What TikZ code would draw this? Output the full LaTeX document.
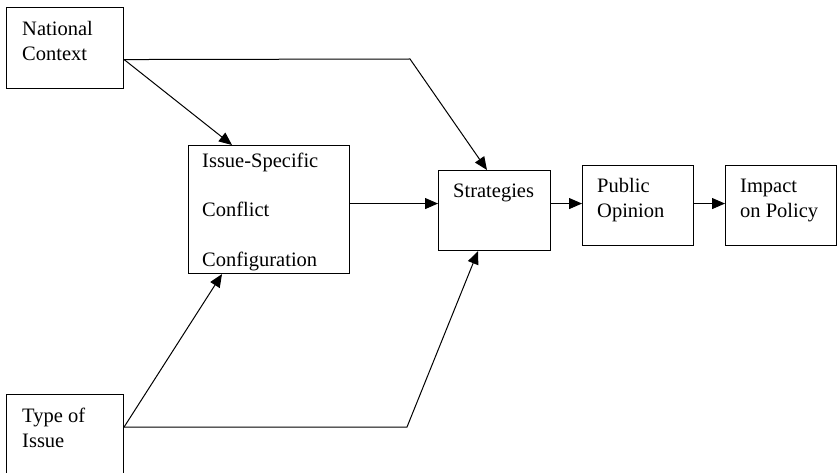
\documentclass[tikz,border=0pt]{standalone}
\usepackage{fontspec}
\setmainfont{Liberation Serif}
\usetikzlibrary{arrows.meta}
\begin{document}
\begin{tikzpicture}[x=1pt,y=-1pt,
  box/.style={draw, line width=1.1pt, inner sep=0pt, anchor=north west},
  lbl/.style={anchor=base west, inner sep=0pt, font=\fontsize{20.5}{24}\selectfont},
  link/.style={line width=1pt, -{Triangle[length=13pt,width=11pt]}},
  plain/.style={line width=1pt}]
\useasboundingbox (0,0) rectangle (838,473);
\clip (0,0) rectangle (838,473);

% boxes
\node[box, minimum width=117pt, minimum height=81pt]  (nc)  at (6,7) {};
\node[box, minimum width=161pt, minimum height=128pt] (isc) at (188,145) {};
\node[box, minimum width=112pt, minimum height=80pt]  (str) at (438,170) {};
\node[box, minimum width=111pt, minimum height=80pt]  (po)  at (582,165) {};
\node[box, minimum width=111pt, minimum height=80pt]  (ip)  at (725,165) {};
\node[box, minimum width=117pt, minimum height=84pt]  (toi) at (6,394) {};

% labels
\node[lbl] (nc1) at (22,36) {National};
\node[lbl] (nc2) at (22,61) {Context};
\node[lbl] (isc1) at (202,168) {Issue-Specific};
\node[lbl] (isc2) at (202,217) {Conflict};
\node[lbl] (isc3) at (202,266) {Configuration};
\node[lbl] (str1) at (453,198) {Strategies};
\node[lbl] (po1) at (597,193) {Public};
\node[lbl] (po2) at (597,218) {Opinion};
\node[lbl] (ip1) at (740,193) {Impact};
\node[lbl] (ip2) at (740,218) {on Policy};
\node[lbl] (toi1) at (22,422) {Type of};
\node[lbl] (toi2) at (22,447) {Issue};

% connector end points
\coordinate (ncout)  at ([yshift=-11.5pt]nc.east);
\coordinate (toiout) at (toi.north east |- 0,427);
\coordinate (iscout) at ([yshift=6pt]isc.east);
\coordinate (strout) at ([yshift=7pt]str.east);
\coordinate (poout)  at ([yshift=2pt]po.east);
\coordinate (bendtop) at (410,59);
\coordinate (bendbot) at (407,427);

% connectors
\draw[link] (ncout) -- ([xshift=44pt]isc.north west);
\draw[link] (ncout) -- (bendtop) -- ([xshift=49pt]str.north west);
\draw[link] (iscout) -- (iscout -| str.west);
\draw[link] (strout) -- (strout -| po.west);
\draw[link] (poout) -- (poout -| ip.west);
\draw[link] (toiout) -- ([xshift=34pt]isc.south west);
\draw[link] (toiout) -- (bendbot) -- ([xshift=40pt]str.south west);
\end{tikzpicture}
\end{document}
